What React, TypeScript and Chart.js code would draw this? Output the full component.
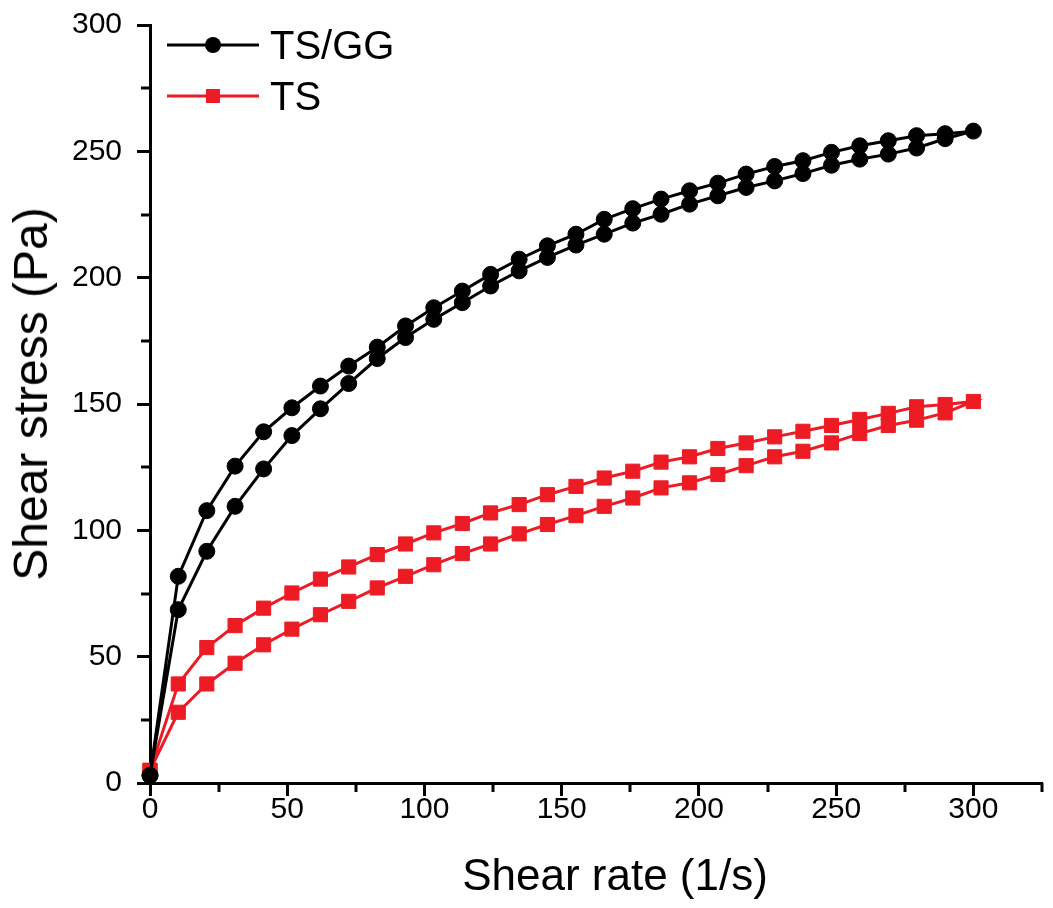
import React, { useEffect, useRef } from 'react';
import { Chart, registerables } from 'chart.js';

Chart.register(...registerables);

// Shear rate (1/s)
const shearRate = [0, 10.3, 20.7, 31, 41.4, 51.7, 62.1, 72.4, 82.8, 93.1, 103.4, 113.8, 124.1, 134.5, 144.8, 155.2, 165.5, 175.9, 186.2, 196.6, 206.9, 217.2, 227.6, 237.9, 248.3, 258.6, 269, 279.3, 289.7, 300];
// Shear stress (Pa), TS/GG, upper and lower branch of the loop
const tsggUpper = [3, 81.8, 107.8, 125.4, 139.0, 148.5, 157.1, 165.0, 172.5, 180.9, 188.1, 194.7, 201.3, 207.3, 212.6, 217.2, 223.1, 227.3, 231.1, 234.4, 237.4, 241.0, 244.0, 246.3, 249.6, 252.2, 254.2, 256.2, 257.0, 258.0];
const tsggLower = [3, 68.6, 91.7, 109.5, 124.3, 137.5, 148.1, 158.1, 168.0, 176.3, 183.5, 190.1, 196.7, 202.7, 208.0, 212.9, 217.2, 221.6, 225.1, 229.1, 232.4, 235.7, 238.3, 241.2, 244.5, 246.9, 248.9, 251.3, 255.0, 258.0];
// Shear stress (Pa), TS
const tsUpper = [5, 39.2, 53.6, 62.3, 69.2, 75.2, 80.7, 85.5, 90.4, 94.6, 99.0, 102.7, 106.9, 110.2, 114.1, 117.4, 120.7, 123.4, 127.0, 129.1, 132.4, 134.6, 137.0, 139.2, 141.5, 143.9, 146.3, 148.9, 149.8, 151.0];
const tsLower = [5, 28.0, 39.2, 47.4, 54.7, 60.9, 66.6, 71.9, 77.2, 81.8, 86.4, 90.8, 94.6, 98.6, 102.3, 105.8, 109.5, 112.8, 116.8, 118.8, 122.1, 125.6, 129.1, 131.3, 134.6, 138.3, 141.5, 143.6, 146.5, 151.0];

const seriesNames = ['TS/GG', 'TS'];
const xTitle = 'Shear rate (1/s)';
const yTitle = 'Shear stress (Pa)';
const xMajorTicks = [0, 50, 100, 150, 200, 250, 300];
const xMinorTicks = [25, 75, 125, 175, 225, 275, 325];
const yMajorTicks = [0, 50, 100, 150, 200, 250, 300];
const yMinorTicks = [25, 75, 125, 175, 225, 275];

const RED = '#ED1C24';
const FONT = '"Liberation Sans", Arial, sans-serif';

function loop(upper: number[], lower: number[]) {
  const pts = upper.map((v, i) => ({ x: shearRate[i], y: v }));
  for (let i = lower.length - 2; i >= 0; i--) pts.push({ x: shearRate[i], y: lower[i] });
  return pts;
}

const minorTickPlugin = {
  id: 'minorTicks',
  afterDraw(chart: any) {
    const { ctx, chartArea, scales } = chart;
    const x = scales.x;
    const y = scales.y;
    ctx.save();
    ctx.strokeStyle = '#000';
    ctx.lineWidth = 3;
    ctx.beginPath();
    for (const v of xMinorTicks) {
      const px = Math.round(x.getPixelForValue(v));
      ctx.moveTo(px, chartArea.bottom);
      ctx.lineTo(px, chartArea.bottom + 9);
    }
    for (const v of yMinorTicks) {
      const py = Math.round(y.getPixelForValue(v));
      ctx.moveTo(chartArea.left, py);
      ctx.lineTo(chartArea.left - 9, py);
    }
    ctx.stroke();
    ctx.restore();
  },
};

export default function App() {
  const ref = useRef<HTMLCanvasElement>(null);

  useEffect(() => {
    const canvas = ref.current;
    if (!canvas) return;
    const chart = new Chart(canvas, {
      type: 'line',
      data: {
        datasets: [
          {
            label: seriesNames[0],
            data: loop(tsggUpper, tsggLower),
            borderColor: '#000',
            backgroundColor: '#000',
            borderWidth: 3,
            pointStyle: 'circle',
            pointRadius: 8,
            pointBorderWidth: 1,
            pointBackgroundColor: '#000',
            pointBorderColor: '#000',
            tension: 0,
            clip: false as any,
            order: 0,
          },
          {
            label: seriesNames[1],
            data: loop(tsUpper, tsLower),
            borderColor: RED,
            backgroundColor: RED,
            borderWidth: 3,
            pointStyle: 'rect',
            pointRadius: 10,
            pointBorderWidth: 1,
            pointBackgroundColor: RED,
            pointBorderColor: RED,
            tension: 0,
            clip: false as any,
            order: 1,
          },
        ],
      },
      options: {
        animation: false,
        responsive: false,
        devicePixelRatio: 1,
        layout: { padding: { left: 0, top: 25, right: 0, bottom: 0 } },
        plugins: { legend: { display: false }, tooltip: { enabled: false } },
        scales: {
          x: {
            type: 'linear',
            min: 0,
            max: 325,
            afterBuildTicks: (s: any) => {
              s.ticks = xMajorTicks.map((v) => ({ value: v }));
            },
            afterFit: (s: any) => {
              s.height = 125;
              s.paddingLeft = 0;
              s.paddingRight = 0;
            },
            ticks: {
              color: '#000',
              font: { family: FONT, size: 30 },
              padding: -4,
              maxRotation: 0,
              autoSkip: false,
            },
            grid: {
              display: true,
              drawOnChartArea: false,
              drawTicks: true,
              tickLength: 13,
              tickWidth: 3,
              tickColor: '#000',
            },
            border: { display: true, color: '#000', width: 3 },
            title: { display: false },
          },
          y: {
            type: 'linear',
            min: 0,
            max: 300,
            afterBuildTicks: (s: any) => {
              s.ticks = yMajorTicks.map((v) => ({ value: v }));
            },
            afterFit: (s: any) => {
              s.width = 150;
              s.paddingTop = 0;
              s.paddingBottom = 0;
            },
            ticks: {
              color: '#000',
              font: { family: FONT, size: 30 },
              padding: 15,
              autoSkip: false,
            },
            grid: {
              display: true,
              drawOnChartArea: false,
              drawTicks: true,
              tickLength: 13,
              tickWidth: 3,
              tickColor: '#000',
            },
            border: { display: true, color: '#000', width: 3 },
            title: { display: false },
          },
        },
      },
      plugins: [minorTickPlugin],
    } as any);
    return () => chart.destroy();
  }, []);

  const legendText: React.CSSProperties = {
    position: 'absolute',
    left: 270,
    fontFamily: FONT,
    fontSize: 40,
    lineHeight: '40px',
    color: '#000',
    whiteSpace: 'nowrap',
  };

  const titleBase: React.CSSProperties = {
    position: 'absolute',
    fontFamily: FONT,
    lineHeight: 1,
    color: '#000',
    whiteSpace: 'nowrap',
  };

  return (
    <div style={{ position: 'fixed', left: 0, top: 0, width: 1053, height: 908, background: '#fff' }}>
      <canvas ref={ref} width={1053} height={908} style={{ display: 'block', width: 1053, height: 908 }} />
      <svg width={1053} height={130} style={{ position: 'absolute', left: 0, top: 0, pointerEvents: 'none' }}>
        <line x1={167} y1={45} x2={259} y2={45} stroke="#000" strokeWidth={3} />
        <circle cx={213} cy={45} r={8} fill="#000" />
        <line x1={167} y1={96} x2={259} y2={96} stroke={RED} strokeWidth={3} />
        <rect x={206} y={89} width={14} height={14} fill={RED} />
      </svg>
      <div style={{ ...legendText, top: 25 }}>{seriesNames[0]}</div>
      <div style={{ ...legendText, top: 76 }}>{seriesNames[1]}</div>
      <div
        style={{
          ...titleBase,
          fontSize: 44,
          left: 615,
          top: 875,
          transform: 'translate(-50%, -50%)',
        }}
      >
        {xTitle}
      </div>
      <div
        style={{
          ...titleBase,
          fontSize: 48,
          left: 31,
          top: 394,
          transform: 'translate(-50%, -50%) rotate(-90deg)',
        }}
      >
        {yTitle}
      </div>
    </div>
  );
}
